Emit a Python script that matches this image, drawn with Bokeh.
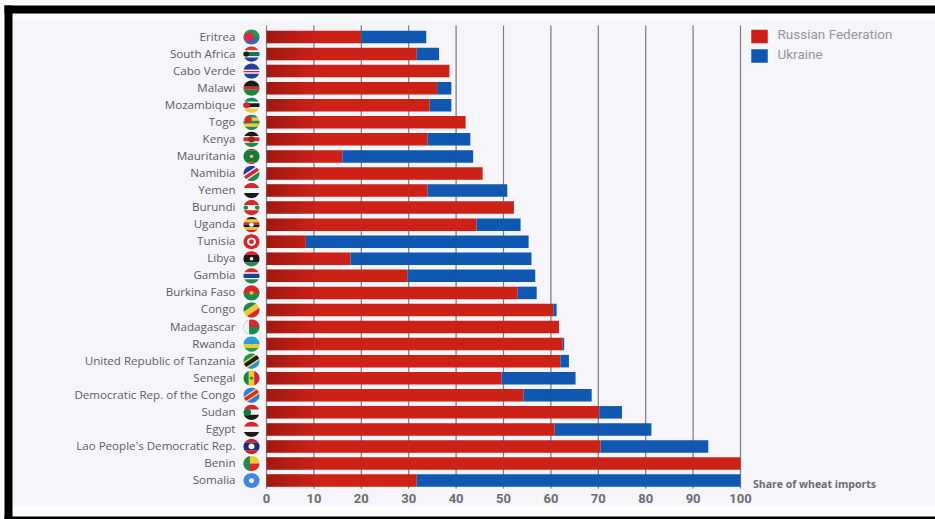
import math
from bokeh.core.properties import value
from bokeh.embed import file_html
from bokeh.models import BoxAnnotation, FixedTicker, Range1d
from bokeh.plotting import figure
from bokeh.resources import INLINE

countries = ["Eritrea", "South Africa", "Cabo Verde", "Malawi", "Mozambique", "Togo", "Kenya",
             "Mauritania", "Namibia", "Yemen", "Burundi", "Uganda", "Tunisia", "Libya", "Gambia",
             "Burkina Faso", "Congo", "Madagascar", "Rwanda", "United Republic of Tanzania",
             "Senegal", "Democratic Rep. of the Congo", "Sudan", "Egypt",
             "Lao People's Democratic Rep.", "Benin", "Somalia"]
russia = [20.0, 31.7, 38.6, 36.0, 34.4, 42.0, 34.0, 16.0, 45.6, 34.0, 52.2, 44.3, 8.3, 17.7, 29.7,
          53.0, 60.5, 61.7, 62.5, 62.0, 49.6, 54.2, 70.2, 60.8, 70.5, 100.0, 31.7]
ukraine = [13.7, 4.7, 0.0, 3.0, 4.6, 0.0, 9.0, 27.6, 0.0, 16.8, 0.0, 9.3, 47.0, 38.2, 27.0,
           4.0, 0.7, 0.0, 0.3, 1.8, 15.6, 14.4, 4.8, 20.4, 22.7, 0.0, 68.3]
ticks = [0, 10, 20, 30, 40, 50, 60, 70, 80, 90, 100]
series_names = ["Russian Federation", "Ukraine"]
axis_note = "Share of wheat imports"

WIDTH, HEIGHT = 935, 519
PX_PER_UNIT = 4.74
PX_PER_ROW = 17.06
ZERO_PX = 266
FIRST_ROW_PX = 36.5

RED, BLUE = "#cd2118", "#0f57b0"
BG = "#f5f5fa"
TEXT = "#5e5e64"

G, R, Y, K, W, B = "#1f8a4c", "#d8262c", "#f2c92e", "#1a1a1a", "#f4f4f4", "#23409a"

# Flag sketches: band angle in degrees, band colours, band weights, dots (dx, dy, radius, colour),
# and an optional hoist panel (colour, right edge in -1..1)
flags = {
    "Eritrea": (0, ["#1f9a55", "#2f6fc0"], None, [(-0.3, 0, 0.62, "#e0264a")]),
    "South Africa": (0, ["#d8392a", W, "#0a7a52", W, B], [3, 1, 3, 1, 3], [(-0.65, 0, 0.35, K)]),
    "Cabo Verde": (0, [B, W, R, W, B], [5, 1, 1, 1, 4], None),
    "Malawi": (0, [K, R, "#1c8a3a"], [2, 1, 2], None),
    "Mozambique": (0, ["#0f8f6a", W, K, W, Y], [3, 1, 3, 1, 3], [(-0.6, 0, 0.42, R)]),
    "Togo": (0, [G, Y, G, Y, G], None, [(-0.45, -0.4, 0.5, R)]),
    "Kenya": (0, [K, W, R, W, G], [3, 1, 3, 1, 3], [(0, 0, 0.42, "#a5201c")]),
    "Mauritania": (0, [R, "#157a3c", R], [1, 8, 1], [(0, 0, 0.22, Y)]),
    "Namibia": (-35, [B, W, R, W, G], [4, 1, 3, 1, 4], None),
    "Yemen": (0, [R, W, K], None, None),
    "Burundi": (0, [R, W, R], None, [(-0.75, 0, 0.3, G), (0.75, 0, 0.3, G), (0, 0, 0.3, W)]),
    "Uganda": (0, [K, Y, R, K, Y, R], None, [(0, 0, 0.3, W)]),
    "Tunisia": (0, [R], None, [(0, 0, 0.55, W), (0, 0, 0.3, R)]),
    "Libya": (0, [R, K, G], [1, 2, 1], [(0, 0, 0.22, W)]),
    "Gambia": (0, [R, W, B, W, G], [3, 1, 3, 1, 3], None),
    "Burkina Faso": (0, [R, G], None, [(0, 0, 0.25, Y)]),
    "Congo": (-35, [G, Y, R], None, None),
    "Madagascar": (0, [R, "#1c8a4c"], None, None, (W, -0.3)),
    "Rwanda": (0, ["#2a9fd8", Y, "#20a050"], [2, 1, 1], None),
    "United Republic of Tanzania": (-35, ["#1c9a4a", Y, K, Y, "#1f8fd8"], [3, 1, 3, 1, 3], None),
    "Senegal": (-90, ["#128a3e", Y, R], None, [(0, 0, 0.2, "#128a3e")]),
    "Democratic Rep. of the Congo": (-35, ["#2a7fe0", Y, R, Y, "#2a7fe0"], [4, 1, 3, 1, 4], None),
    "Sudan": (0, [R, W, K], None, [(-0.6, 0, 0.55, "#12783c")]),
    "Egypt": (0, [R, W, K], None, None),
    "Lao People's Democratic Rep.": (0, ["#c8202c", "#1c2a78", "#c8202c"], [1, 2, 1], [(0, 0, 0.38, W)]),
    "Benin": (0, [Y, R], None, None, (G, -0.2)),
    "Somalia": (0, ["#3f86e8"], None, [(0, 0, 0.32, W)]),
}

p = figure(width=WIDTH, height=HEIGHT, frame_width=WIDTH, frame_height=HEIGHT,
           output_backend="svg", toolbar_location=None,
           min_border_left=0, min_border_right=0, min_border_top=0, min_border_bottom=0,
           x_range=Range1d(-ZERO_PX / PX_PER_UNIT, (WIDTH - ZERO_PX) / PX_PER_UNIT),
           y_range=Range1d((HEIGHT - FIRST_ROW_PX) / PX_PER_ROW, -FIRST_ROW_PX / PX_PER_ROW),
           background_fill_color=BG, border_fill_color=BG, outline_line_color=None)
p.grid.visible = False
p.yaxis.visible = False
p.xaxis.ticker = FixedTicker(ticks=ticks)
p.xaxis.axis_line_color = None
p.xaxis.major_tick_line_color = None
p.xaxis.minor_tick_line_color = None
p.xaxis.major_tick_in = 0
p.xaxis.major_tick_out = 0
p.xaxis.major_label_text_font = "Roboto"
p.xaxis.major_label_text_font_size = "13px"
p.xaxis.major_label_text_font_style = "bold"
p.xaxis.major_label_text_color = "#6c6c70"
p.xaxis.major_label_standoff = -26

rows = list(range(len(countries)))
left_u = russia
right_u = [a + b for a, b in zip(russia, ukraine)]
grid_top = (25 - FIRST_ROW_PX) / PX_PER_ROW
grid_bottom = (488 - FIRST_ROW_PX) / PX_PER_ROW

# Pale halo between the bars
p.hbar(y=[r + 0.2 for r in rows], left=0, right=russia, height=0.42, color="#fff0ea", line_color=None)
p.hbar(y=[r + 0.2 for r in rows], left=left_u, right=right_u, height=0.42, color="#eef5ff", line_color=None)

# Vertical grid lines
p.segment(x0=ticks, x1=ticks, y0=grid_top, y1=grid_bottom, color="#85858c", line_width=1.2)

# Stacked bars
bar_h = 12.5 / PX_PER_ROW
p.hbar(y=rows, left=0, right=russia, height=bar_h, color=RED, line_color=None)
p.hbar(y=rows, left=left_u, right=right_u, height=bar_h, color=BLUE, line_color=None)

# Shading towards the start of each red bar
shade_steps = 10
for s in range(shade_steps):
    p.hbar(y=rows, left=[min(s * 1.0, r) for r in russia], right=[min((s + 1) * 1.0, r) for r in russia],
           height=bar_h, color="#3a0a05", alpha=0.30 * (1 - s / shade_steps), line_color=None)

# Grid lines showing faintly through the bars
p.segment(x0=ticks, x1=ticks, y0=grid_top, y1=grid_bottom, color="#5a5a60", line_width=1, alpha=0.18)

# Country labels
p.text(x=[(235 - ZERO_PX) / PX_PER_UNIT] * len(rows), y=[r - 1 / PX_PER_ROW for r in rows], text=countries,
       text_align="right", text_baseline="middle", text_font=value("Open Sans"), text_font_size="11.6px",
       text_font_style="normal", text_color=TEXT)


def circle_band(cx, cy, a, b, angle, radius_x=8.0, radius_y=7.6, dx=0.0, dy=0.0, scale=1.0):
    """Polygon of the band a..b (in -1..1) of a small disc, returned in data coordinates."""
    n = 14
    ts = [a + (b - a) * i / n for i in range(n + 1)]
    pts = [(math.sqrt(max(0, 1 - t * t)), t) for t in ts] + [(-math.sqrt(max(0, 1 - t * t)), t) for t in reversed(ts)]
    th = math.radians(angle)
    xs, ys = [], []
    for u, v in pts:
        x = (u * math.cos(th) - v * math.sin(th)) * scale + dx
        y = (u * math.sin(th) + v * math.cos(th)) * scale + dy
        xs.append(cx + x * radius_x / PX_PER_UNIT)
        ys.append(cy + y * radius_y / PX_PER_ROW)
    return xs, ys


flag_cx = (251 - ZERO_PX) / PX_PER_UNIT
fx, fy, fc = [], [], []
for row, name in enumerate(countries):
    spec = flags[name]
    angle, colours, weights, dots = spec[:4]
    weights = weights or [1] * len(colours)
    total = sum(weights)
    pos = -1.0
    for colour, w in zip(colours, weights):
        nxt = pos + 2.0 * w / total
        xs, ys = circle_band(flag_cx, row, pos, nxt, angle)
        fx.append(xs); fy.append(ys); fc.append(colour)
        pos = nxt
    if len(spec) > 4:
        xs, ys = circle_band(flag_cx, row, -1, spec[4][1], -90)
        fx.append(xs); fy.append(ys); fc.append(spec[4][0])
    for dx, dy, rad, colour in dots or []:
        # keep the dot inside the disc
        reach = math.hypot(dx, dy) + rad
        k = min(1.0, 1.0 / reach)
        xs, ys = circle_band(flag_cx, row, -1, 1, 0, dx=dx * k, dy=dy * k, scale=rad * k)
        fx.append(xs); fy.append(ys); fc.append(colour)
p.patches(fx, fy, fill_color=fc, line_color=None)

# Legend
legend_x = (759 - ZERO_PX) / PX_PER_UNIT
legend_y = [(36 - FIRST_ROW_PX) / PX_PER_ROW, (55.5 - FIRST_ROW_PX) / PX_PER_ROW]
p.rect(x=[legend_x] * 2, y=legend_y, width=16.5 / PX_PER_UNIT, height=13.5 / PX_PER_ROW,
       color=[RED, BLUE], line_color=None)
p.text(x=[(777 - ZERO_PX) / PX_PER_UNIT] * 2, y=[(33 - FIRST_ROW_PX) / PX_PER_ROW, (53 - FIRST_ROW_PX) / PX_PER_ROW],
       text=series_names, text_baseline="middle", text_font=value("Roboto"), text_font_size="13.5px",
       text_color="#97979c")

# Axis caption
p.text(x=[(752.5 - ZERO_PX) / PX_PER_UNIT], y=[(483.5 - FIRST_ROW_PX) / PX_PER_ROW], text=[axis_note],
       text_baseline="middle", text_font=value("Open Sans"), text_font_size="10.5px",
       text_font_style="bold", text_color="#6c6c70")

# Page margins and the dark border around the chart; annotation offsets count upward from the frame bottom
for l, r, t, b, c in [(0, WIDTH, 505, 516, "#fdfdfd"), (0, WIDTH, 13, 19, "#fcfcfd"),
                      (0, 4, 0, HEIGHT, "#ffffff"), (0, WIDTH, 0, 5, "#ffffff"),
                      (4, 12, 5, HEIGHT, "#000000"), (4, WIDTH, 5, 13, "#000000"),
                      (4, WIDTH, 516, HEIGHT, "#000000")]:
    p.add_layout(BoxAnnotation(left=l, right=r, top=HEIGHT - t, bottom=HEIGHT - b,
                               left_units="screen", right_units="screen",
                               top_units="screen", bottom_units="screen", fill_color=c, fill_alpha=1,
                               line_color=None, level="underlay" if c == "#fdfdfd" else "overlay"))

open("out.html", "w").write(file_html(p, INLINE))
